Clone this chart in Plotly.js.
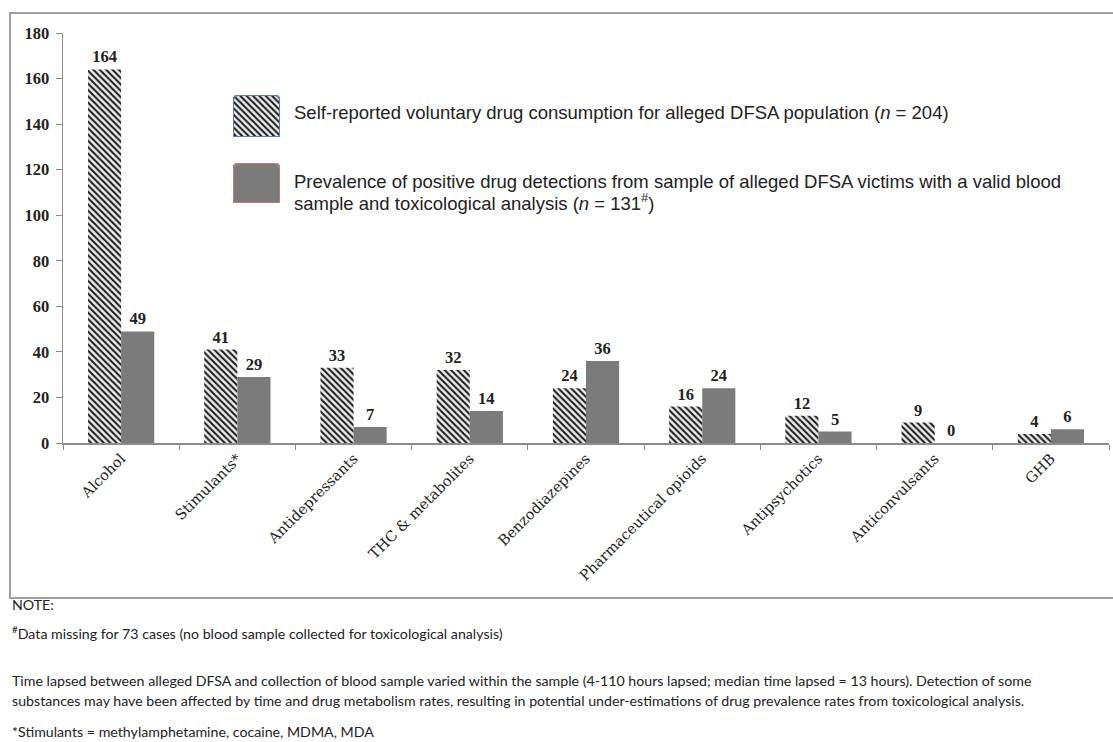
<!DOCTYPE html>
<html>
<head>
<meta charset="utf-8">
<script src="https://cdn.plot.ly/plotly-3.0.1.min.js"></script>
<style>
  html, body { margin: 0; padding: 0; background: #fff; }
  #chart { width: 1113px; height: 742px; }
</style>
</head>
<body>
<div id="chart"></div>
<script>
const categories = ['Alcohol', 'Stimulants*', 'Antidepressants', 'THC & metabolites', 'Benzodiazepines',
  'Pharmaceutical opioids', 'Antipsychotics', 'Anticonvulsants', 'GHB'];
const selfReported = [164, 41, 33, 32, 24, 16, 12, 9, 4];
const detected = [49, 29, 7, 14, 36, 24, 5, 0, 6];
const legendLines = [
  'Self-reported voluntary drug consumption for alleged DFSA population (<i>n</i> = 204)',
  'Prevalence of positive drug detections from sample of alleged DFSA victims with a valid blood',
  'sample and toxicological analysis (<i>n</i> = 131<sup>#</sup>)'
];
const yTicks = [0, 20, 40, 60, 80, 100, 120, 140, 160, 180];
const notes = [
  'NOTE:',
  '<sup>#</sup>Data missing for 73 cases (no blood sample collected for toxicological analysis)',
  'Time lapsed between alleged DFSA and collection of blood sample varied within the sample (4-110 hours lapsed; median time lapsed = 13 hours). Detection of some',
  'substances may have been affected by time and drug metabolism rates, resulting in potential under-estimations of drug prevalence rates from toxicological analysis.',
  '*Stimulants = methylamphetamine, cocaine, MDMA, MDA'
];

// layout geometry in pixels
const W = 1113, H = 742;
const PL = 63, PR = 1109, PT = 33, PB = 443;
const px = x => (x - PL) / (PR - PL);
const py = y => (PB - y) / (PB - PT);

const hatch = {shape: '\\', size: 4.5, solidity: 0.45, fgcolor: '#1a1a1a', bgcolor: '#ececec', fillmode: 'replace'};
const solidColor = '#7b7b7b';
const serif = 'Liberation Serif, DejaVu Serif, serif';
const wideSerif = 'DejaVu Serif, Liberation Serif, serif';
const sans = 'Liberation Sans, Arial, sans-serif';
const noteFont = 'Lato, Open Sans, sans-serif';
const labelFont = {family: serif, size: 16.5, color: '#222', weight: 'bold'};

const traces = [
  {
    type: 'bar', x: categories, y: selfReported, name: 'self',
    marker: {color: '#ececec', pattern: hatch, line: {width: 0}},
    text: selfReported.map(String), textposition: 'outside', cliponaxis: false,
    textfont: labelFont, hoverinfo: 'x+y', showlegend: false
  },
  {
    type: 'bar', x: categories, y: detected, name: 'detected',
    marker: {color: solidColor, line: {width: 0}},
    text: detected.map(String), textposition: 'outside', cliponaxis: false,
    textfont: labelFont, hoverinfo: 'x+y', showlegend: false
  },
  // legend patches
  {
    type: 'bar', x: [0], y: [1], width: [1], xaxis: 'x2', yaxis: 'y2', showlegend: false, hoverinfo: 'skip',
    marker: {color: '#ececec', pattern: hatch, cornerradius: 6, line: {color: '#5b7fb0', width: 2}}
  },
  {
    type: 'bar', x: [0], y: [1], width: [1], xaxis: 'x3', yaxis: 'y3', showlegend: false, hoverinfo: 'skip',
    marker: {color: solidColor, cornerradius: 6, line: {color: '#c27a78', width: 2}}
  }
];

const hiddenAx = extra => Object.assign({visible: false, fixedrange: true, showgrid: false, zeroline: false}, extra);

const ann = (x, y, text, font) => ({xref: 'paper', yref: 'paper', x: px(x), y: py(y), xanchor: 'left', yanchor: 'middle',
  text: text, showarrow: false, align: 'left', font: font});
const legFont = {family: sans, size: 18.5, color: '#222'};
const noteF = {family: noteFont, size: 14.2, color: '#222'};

const annotations = [
  ann(292, 113, legendLines[0], legFont),
  ann(292, 181, legendLines[1], legFont),
  ann(292, 202, legendLines[2], legFont),
  ann(10, 604, notes[0], noteF),
  ann(10, 632, notes[1], noteF),
  ann(10, 680, notes[2], noteF),
  ann(10, 700, notes[3], noteF),
  ann(10, 731, notes[4], noteF)
];

const layout = {
  width: W, height: H, autosize: false,
  margin: {l: PL, r: W - PR, t: PT, b: H - PB, pad: 0},
  paper_bgcolor: '#fff', plot_bgcolor: '#fff',
  barmode: 'group', bargap: 0.43, bargroupgap: 0,
  showlegend: false,
  xaxis: {
    type: 'category', range: [-0.5, 8.5], fixedrange: true,
    showline: true, linecolor: '#8c8c8c', linewidth: 1.5,
    ticks: 'outside', tickson: 'boundaries', ticklen: 5, tickcolor: '#8c8c8c', tickwidth: 1,
    tickangle: -45, tickfont: {family: wideSerif, size: 14.5, color: '#222'},
    showgrid: false, zeroline: false
  },
  yaxis: {
    range: [0, 180], fixedrange: true, tickvals: yTicks, ticktext: yTicks.map(String),
    showline: true, linecolor: '#8c8c8c', linewidth: 1.5,
    ticks: 'outside', ticklen: 6, tickcolor: '#8c8c8c', tickwidth: 1,
    tickfont: labelFont, ticklabelstandoff: 3,
    showgrid: false, zeroline: false
  },
  xaxis2: hiddenAx({domain: [px(233), px(280)], range: [-0.5, 0.5], anchor: 'y2'}),
  yaxis2: hiddenAx({domain: [py(137), py(95)], range: [0, 1], anchor: 'x2'}),
  xaxis3: hiddenAx({domain: [px(233), px(280)], range: [-0.5, 0.5], anchor: 'y3'}),
  yaxis3: hiddenAx({domain: [py(203), py(163)], range: [0, 1], anchor: 'x3'}),
  shapes: [
    {type: 'rect', xref: 'paper', yref: 'paper', x0: px(10), x1: px(1116), y0: py(598), y1: py(13),
     line: {color: '#a0a0a0', width: 2}, fillcolor: 'rgba(0,0,0,0)', layer: 'below'}
  ],
  annotations: annotations
};

Plotly.newPlot('chart', traces, layout, {displayModeBar: false, staticPlot: true});
</script>
</body>
</html>
